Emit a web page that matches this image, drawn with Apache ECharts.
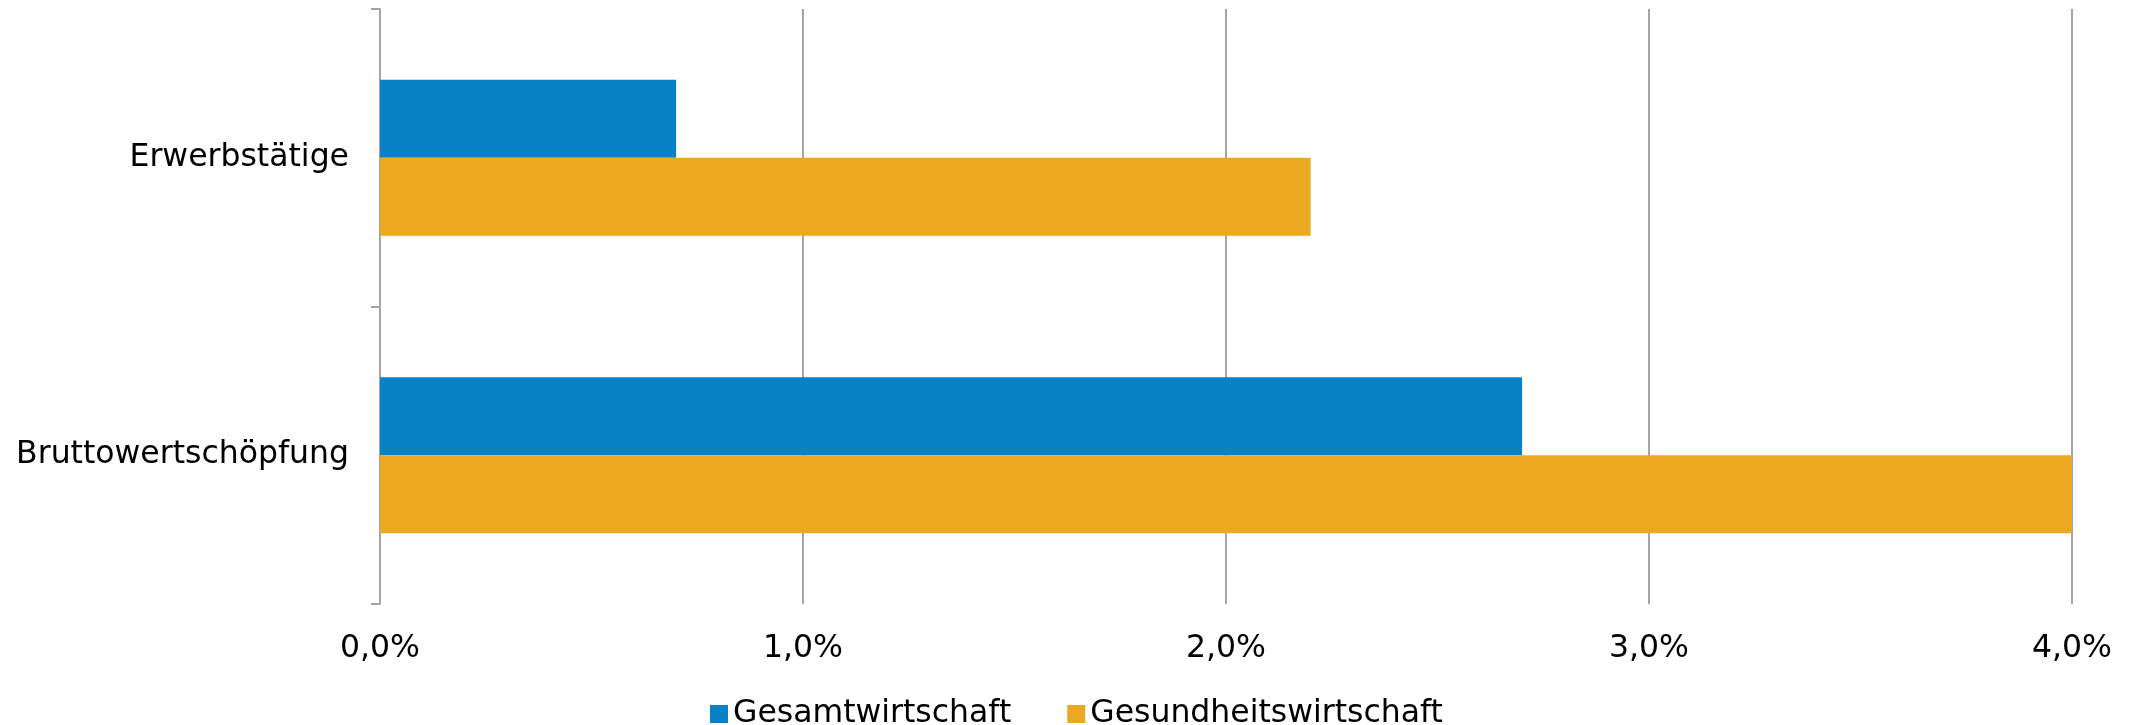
<!DOCTYPE html>
<html>
<head>
<meta charset="utf-8">
<script src="https://cdn.jsdelivr.net/npm/echarts@6/dist/echarts.min.js"></script>
<style>
  html, body { margin: 0; padding: 0; background: #fff; }
  #chart { width: 2133px; height: 725px; }
</style>
</head>
<body>
<div id="chart"></div>
<script>
// Wachstum in Prozent
let categories = ['Erwerbstätige', 'Bruttowertschöpfung'];
let gesamtwirtschaft = [0.7, 2.7];
let gesundheitswirtschaft = [2.2, 4.0];

let gray = '#a3a5a8';
let font = 'DejaVu Sans';

let option = {
    animation: false,
    grid: {
        left: 380,
        right: 61,
        top: 9,
        bottom: 121
    },
    legend: {
        left: 705,
        top: 693,
        itemWidth: 18,
        itemHeight: 18,
        itemGap: 56,
        icon: 'rect',
        textStyle: {
            fontFamily: font,
            fontSize: 31.5,
            color: '#000'
        },
        data: ['Gesamtwirtschaft', 'Gesundheitswirtschaft']
    },
    xAxis: {
        type: 'value',
        min: 0,
        max: 4,
        interval: 1,
        axisLine: { show: false },
        axisTick: { show: false },
        axisLabel: {
            margin: 29,
            fontFamily: font,
            fontSize: 31.5,
            color: '#000',
            formatter: function (v) {
                return v.toFixed(1).replace('.', ',') + '%';
            }
        },
        splitLine: {
            lineStyle: { color: gray, width: 2 }
        }
    },
    yAxis: {
        type: 'category',
        inverse: true,
        data: categories,
        axisLine: {
            show: true,
            lineStyle: { color: gray, width: 2 }
        },
        axisTick: {
            show: true,
            alignWithLabel: false,
            length: 9,
            lineStyle: { color: gray, width: 2 }
        },
        axisLabel: {
            margin: 31,
            fontFamily: font,
            fontSize: 31.5,
            color: '#000'
        }
    },
    series: [
        {
            name: 'Gesamtwirtschaft',
            type: 'bar',
            barGap: 0,
            barCategoryGap: '47.5%',
            itemStyle: { color: '#0782c5' },
            data: gesamtwirtschaft
        },
        {
            name: 'Gesundheitswirtschaft',
            type: 'bar',
            barGap: 0,
            barCategoryGap: '47.5%',
            itemStyle: { color: '#eda821' },
            data: gesundheitswirtschaft
        }
    ]
};

let myChart = echarts.init(document.getElementById('chart'));
myChart.setOption(option);
</script>
</body>
</html>
